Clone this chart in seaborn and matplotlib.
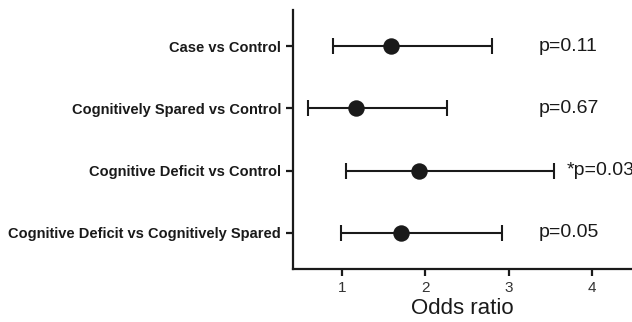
import numpy as np
import pandas as pd
import matplotlib
matplotlib.use('Agg')
import matplotlib.pyplot as plt
import seaborn as sns

# 比較組別與勝算比 (odds ratio) 及 95% CI
comparisons = ['Case vs Control',
               'Cognitively Spared vs Control',
               'Cognitive Deficit vs Control',
               'Cognitive Deficit vs Cognitively Spared']
odds_ratio = [1.59, 1.17, 1.93, 1.71]
ci_low = [0.90, 0.60, 1.05, 0.99]
ci_high = [2.80, 2.26, 3.55, 2.92]
p_labels = ['p=0.11', 'p=0.67', '*p=0.03', 'p=0.05']
x_ticks = [1, 2, 3, 4]

df = pd.DataFrame({'comparison': comparisons, 'OR': odds_ratio,
                   'low': ci_low, 'high': ci_high, 'p': p_labels})
df['row'] = np.arange(1, len(df) + 1)

sns.set_theme(style='ticks')
plt.rcParams['font.family'] = ['Liberation Sans', 'DejaVu Sans']

fig = plt.figure(figsize=(6.32, 3.22), dpi=100)
ax = fig.add_axes([0.4636, 0.1646, 0.5364, 0.8045])

ink = '#1a1a1a'

# 誤差線
ax.errorbar(df['OR'], df['row'],
            xerr=[df['OR'] - df['low'], df['high'] - df['OR']],
            fmt='none', ecolor=ink, elinewidth=1.5, capsize=5.5, capthick=1.5, zorder=2)

# 點
sns.scatterplot(data=df, x='OR', y='row', color=ink, s=140, edgecolor=ink,
                linewidth=0, ax=ax, zorder=3)

# p 值標註 (參考圖中 *p=0.03 本來就被右邊界切到)
for _, r in df.iterrows():
    xpos = 3.70 if r['p'].startswith('*') else 3.36
    ax.text(xpos, r['row'], r['p'], fontsize=14, va='center', ha='left', color=ink)

ax.set_xlim(0.416, 4.48)
ax.set_ylim(4.58, 0.42)
ax.set_xticks(x_ticks)
ax.set_xticklabels([str(t) for t in x_ticks], fontsize=11, color='#333333')
ax.set_yticks(df['row'])
ax.set_yticklabels(df['comparison'], fontsize=10.5, fontweight='bold', color=ink)
ax.set_xlabel('Odds ratio', fontsize=16, color=ink, labelpad=2)
ax.set_ylabel('')

sns.despine(ax=ax)
for s in ['left', 'bottom']:
    ax.spines[s].set_linewidth(1.6)
    ax.spines[s].set_color(ink)
ax.tick_params(axis='both', width=1.6, length=5, color=ink)

plt.savefig('out.png', dpi=100)
